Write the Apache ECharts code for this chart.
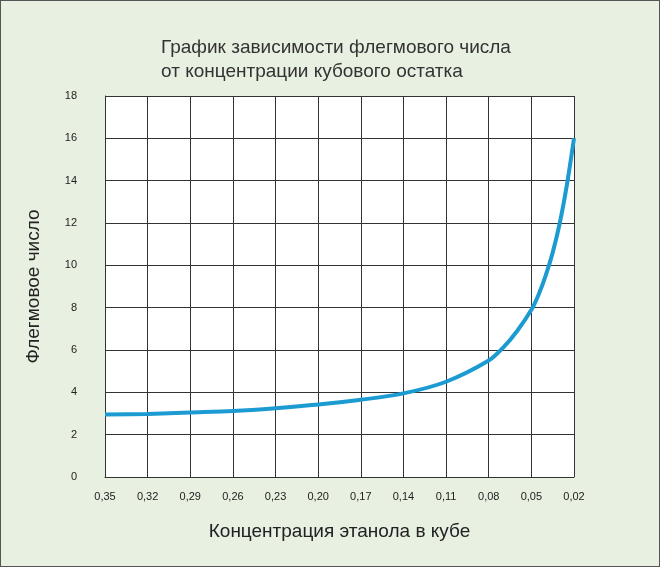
<!DOCTYPE html><html><head><meta charset="utf-8"><script src="https://cdn.jsdelivr.net/npm/echarts@6/dist/echarts.min.js"></script>
<style>html,body{margin:0;padding:0;background:#e8f0e2}#c{width:658px;height:565px;border:1px solid #555}</style></head><body><div id="c"></div><script>
const xValues=[0.35,0.32,0.29,0.26,0.23,0.20,0.17,0.14,0.11,0.08,0.07,0.06,0.05,0.045,0.04,0.035,0.03,0.025,0.02];
const yValues=[2.95,2.98,3.05,3.12,3.25,3.42,3.65,3.95,4.5,5.5,6.1,6.9,7.9,8.6,9.5,10.6,12.0,13.8,16];
const yTicks={min:0,max:18,interval:2};
const ch=echarts.init(document.getElementById('c'));
ch.setOption({backgroundColor:'#e8f0e2',animation:false,
title:{text:'График зависимости флегмового числа\nот концентрации кубового остатка',left:155,top:30,textStyle:{fontFamily:'Liberation Sans',fontWeight:'normal',fontSize:19,lineHeight:24,color:'#333'}},
grid:{left:104,right:85,top:95,bottom:89,backgroundColor:'#fff',show:true,borderWidth:0},
xAxis:{type:'value',inverse:true,min:0.02,max:0.35,interval:0.03,name:'Концентрация этанола в кубе',nameLocation:'middle',nameGap:45,nameTextStyle:{fontFamily:'Liberation Sans',fontSize:19,color:'#222'},
axisLabel:{fontFamily:'Liberation Sans',fontSize:11,color:'#222',margin:14,formatter:v=>v.toFixed(2).replace('.',',')},axisLine:{lineStyle:{color:'#333'}},axisTick:{show:false},splitLine:{show:true,lineStyle:{color:'#333',width:1}}},
yAxis:{type:'value',...yTicks,name:'Флегмовое число',nameLocation:'middle',nameGap:62,nameTextStyle:{fontFamily:'Liberation Sans',fontSize:19,color:'#222'},
axisLabel:{fontFamily:'Liberation Sans',fontSize:11,color:'#222',margin:28},axisLine:{show:true,lineStyle:{color:'#333'}},axisTick:{show:false},splitLine:{lineStyle:{color:'#333',width:1}}},
series:[{type:'line',data:xValues.map((x,i)=>[x,yValues[i]]),smooth:0.3,showSymbol:false,lineStyle:{color:'#1b9bd1',width:4}}]});
</script></body></html>
